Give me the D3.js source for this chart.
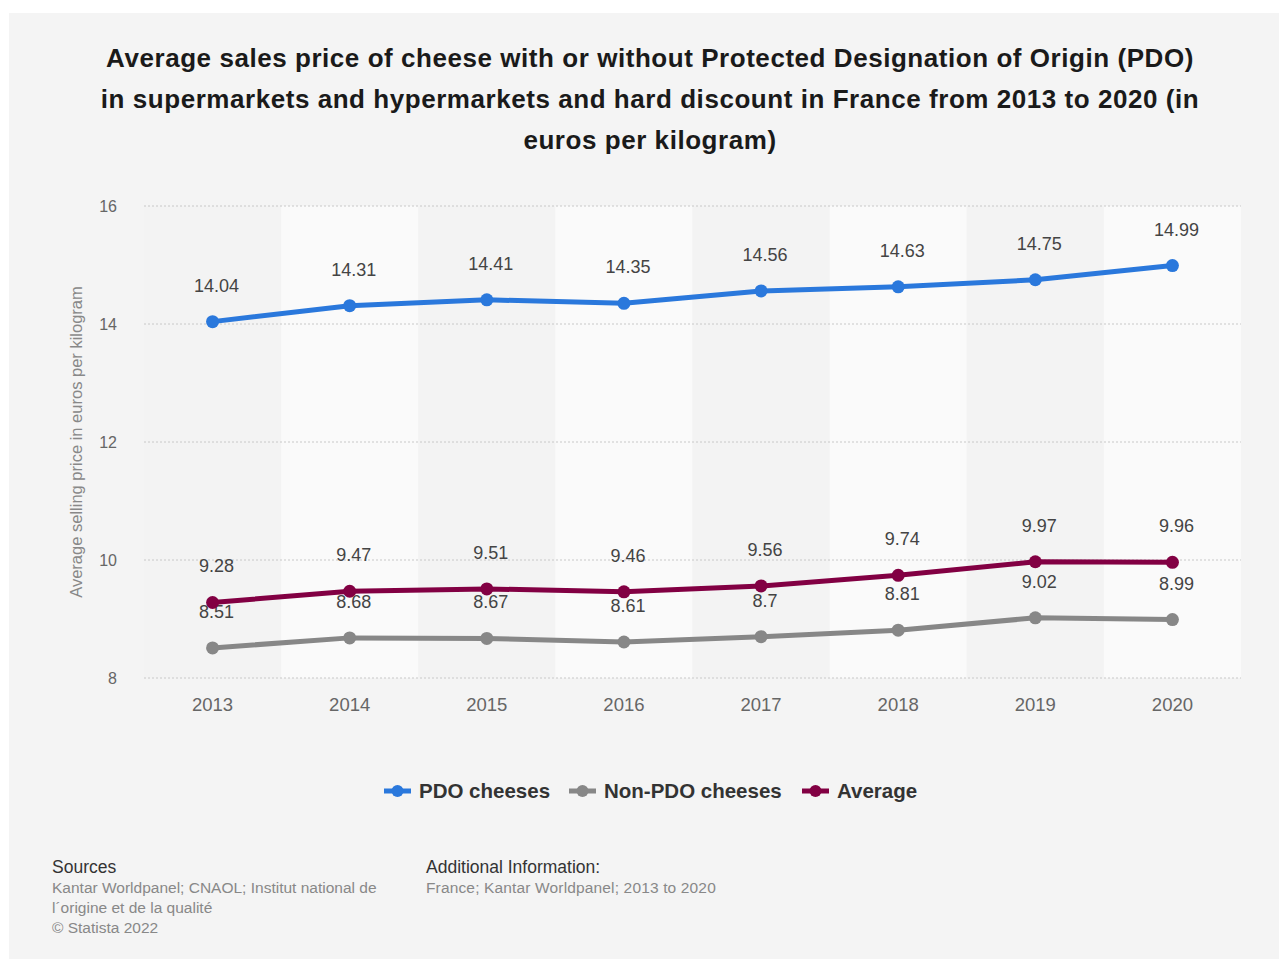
<!DOCTYPE html>
<html>
<head>
<meta charset="utf-8">
<script src="https://cdn.jsdelivr.net/npm/d3@7/dist/d3.min.js"></script>
<style>
  html, body { margin: 0; padding: 0; background: #ffffff; }
  svg { display: block; font-family: "Liberation Sans", Arial, Helvetica, sans-serif; }
</style>
</head>
<body>
<svg id="chart" width="1279" height="959"></svg>
<script>
// Years on the x axis
const years = ["2013", "2014", "2015", "2016", "2017", "2018", "2019", "2020"];
// Average selling price, euros per kilogram
const pdoValues = [14.04, 14.31, 14.41, 14.35, 14.56, 14.63, 14.75, 14.99];
const nonPdoValues = [8.51, 8.68, 8.67, 8.61, 8.7, 8.81, 9.02, 8.99];
const averageValues = [9.28, 9.47, 9.51, 9.46, 9.56, 9.74, 9.97, 9.96];
const yTicks = [8, 10, 12, 14, 16];

const seriesNames = ["PDO cheeses", "Non-PDO cheeses", "Average"];
const seriesColors = ["#2a78dc", "#878787", "#820043"];

const titleLines = [
  "Average sales price of cheese with or without Protected Designation of Origin (PDO)",
  "in supermarkets and hypermarkets and hard discount in France from 2013 to 2020 (in",
  "euros per kilogram)"
];

const series = [
  { name: seriesNames[0], color: seriesColors[0], values: pdoValues },
  { name: seriesNames[1], color: seriesColors[1], values: nonPdoValues },
  { name: seriesNames[2], color: seriesColors[2], values: averageValues }
];

const svg = d3.select("#chart");

// Panel background
svg.append("rect").attr("x", 9).attr("y", 13).attr("width", 1270).attr("height", 946).attr("fill", "#f4f4f4");

// Title
svg.append("g").selectAll("text").data(titleLines).join("text")
  .attr("x", 650).attr("y", (d, i) => 67 + i * 41)
  .attr("text-anchor", "middle")
  .attr("font-size", 26).attr("font-weight", "bold").attr("fill", "#1a1a1a")
  .attr("letter-spacing", 0.55)
  .text(d => d);

const plot = { left: 144, right: 1241, top: 206, bottom: 678 };

const x = d3.scaleBand().domain(years).range([plot.left, plot.right]).padding(0);
const y = d3.scaleLinear().domain([8, 16]).range([plot.bottom, plot.top]);
const cx = d => x(d) + x.bandwidth() / 2;

// Alternating column bands
svg.append("g").selectAll("rect").data(years).join("rect")
  .attr("x", d => x(d)).attr("y", plot.top)
  .attr("width", x.bandwidth()).attr("height", plot.bottom - plot.top)
  .attr("fill", (d, i) => i % 2 === 1 ? "#fafafa" : "#f3f3f3");

// Horizontal grid lines
svg.append("g").selectAll("line").data(yTicks).join("line")
  .attr("x1", plot.left).attr("x2", plot.right)
  .attr("y1", d => y(d)).attr("y2", d => y(d))
  .attr("stroke", "#c8c8c8").attr("stroke-width", 1).attr("stroke-dasharray", "2,2");

// Y axis
const yAxis = svg.append("g").attr("transform", `translate(${plot.left},0)`)
  .call(d3.axisLeft(y).tickValues(yTicks).tickSize(0).tickPadding(27));
yAxis.select(".domain").remove();
yAxis.selectAll("text").attr("font-size", 16).attr("fill", "#666").attr("font-family", "Liberation Sans, Arial, sans-serif");

// X axis
const xAxis = svg.append("g").attr("transform", `translate(0,${plot.bottom})`)
  .call(d3.axisBottom(x).tickSize(0).tickPadding(20));
xAxis.select(".domain").remove();
xAxis.selectAll("text").attr("font-size", 18.5).attr("fill", "#666").attr("font-family", "Liberation Sans, Arial, sans-serif");

// Y axis title
svg.append("text")
  .attr("transform", `translate(82,${(plot.top + plot.bottom) / 2}) rotate(-90)`)
  .attr("text-anchor", "middle")
  .attr("font-size", 16.5).attr("fill", "#888")
  .text("Average selling price in euros per kilogram");

// Lines and points
const line = d3.line().x((d, i) => cx(years[i])).y(d => y(d));

const gSeries = svg.append("g").selectAll("g").data(series).join("g");
gSeries.append("path")
  .attr("d", d => line(d.values))
  .attr("fill", "none").attr("stroke", d => d.color)
  .attr("stroke-width", 5).attr("stroke-linejoin", "round").attr("stroke-linecap", "round");
gSeries.selectAll("circle").data(d => d.values.map((v, i) => ({ v, i, color: d.color }))).join("circle")
  .attr("cx", d => cx(years[d.i])).attr("cy", d => y(d.v))
  .attr("r", 6.5).attr("fill", d => d.color);

// Value labels
gSeries.selectAll("text").data(d => d.values.map((v, i) => ({ v, i }))).join("text")
  .attr("x", d => cx(years[d.i]) + 4).attr("y", d => y(d.v) - 30)
  .attr("text-anchor", "middle")
  .attr("font-size", 18).attr("fill", "#444")
  .text(d => d.v);

// Legend
const legendItems = [
  { name: seriesNames[0], color: seriesColors[0], x: 384 },
  { name: seriesNames[1], color: seriesColors[1], x: 569 },
  { name: seriesNames[2], color: seriesColors[2], x: 802 }
];
const legend = svg.append("g").selectAll("g").data(legendItems).join("g")
  .attr("transform", d => `translate(${d.x},791)`);
legend.append("line").attr("x1", 0).attr("x2", 27).attr("y1", 0).attr("y2", 0)
  .attr("stroke", d => d.color).attr("stroke-width", 5);
legend.append("circle").attr("cx", 13.5).attr("cy", 0).attr("r", 6).attr("fill", d => d.color);
legend.append("text").attr("x", 35).attr("y", 7)
  .attr("font-size", 20.5).attr("font-weight", "bold").attr("fill", "#333")
  .text(d => d.name);

// Footer
const footer = svg.append("g");
footer.append("text").attr("x", 52).attr("y", 873).attr("font-size", 17.5).attr("fill", "#333").text("Sources");
footer.selectAll(".src").data([
  "Kantar Worldpanel; CNAOL; Institut national de",
  "l´origine et de la qualité",
  "© Statista 2022"
]).join("text").attr("class", "src")
  .attr("x", 52).attr("y", (d, i) => 893 + i * 20)
  .attr("font-size", 15.5).attr("fill", "#888").text(d => d);
footer.append("text").attr("x", 426).attr("y", 873).attr("font-size", 17.5).attr("fill", "#333").text("Additional Information:");
footer.append("text").attr("x", 426).attr("y", 893).attr("font-size", 15.5).attr("fill", "#888")
  .attr("letter-spacing", 0.15)
  .text("France; Kantar Worldpanel; 2013 to 2020");
</script>
</body>
</html>
